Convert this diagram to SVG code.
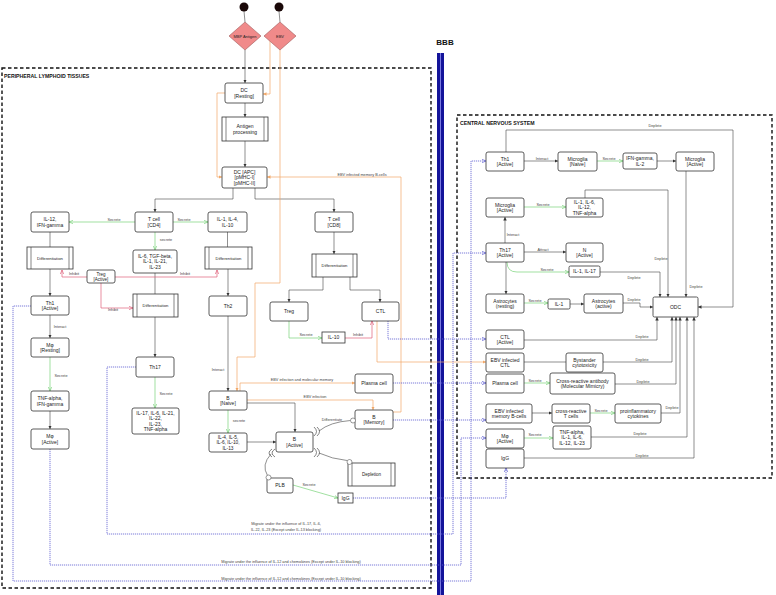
<svg xmlns="http://www.w3.org/2000/svg" width="776" height="595" viewBox="0 0 776 595">
<style>
.bx{fill:#fff;stroke:#333;stroke-width:0.8}
.pl{fill:none;stroke:#333;stroke-width:0.6}
.t{font-family:"Liberation Sans",Arial,sans-serif;font-size:5px;text-anchor:middle;fill:#222}
.s{font-family:"Liberation Sans",Arial,sans-serif;font-size:3.8px;text-anchor:middle;fill:#444}
.h{font-family:"Liberation Sans",Arial,sans-serif;font-size:5.2px;font-weight:bold;fill:#111}
.k{fill:none;stroke:#444;stroke-width:0.6}
.g{fill:none;stroke:#79d279;stroke-width:0.7}
.p{fill:none;stroke:#e0607a;stroke-width:0.7}
.o{fill:none;stroke:#f2a868;stroke-width:0.7}
.b{fill:none;stroke:#5a5ad0;stroke-width:0.8;stroke-dasharray:1.2 0.8}
.c{fill:#fff;stroke:#555;stroke-width:0.6}
.frame{fill:none;stroke:#111;stroke-width:1.4;stroke-dasharray:3.5 2.5}
</style>
<defs>
<marker id="ak" viewBox="0 0 6 6" refX="6" refY="3" markerWidth="3.5" markerHeight="3.5" markerUnits="userSpaceOnUse" orient="auto"><path d="M0,0 L6,3 L0,6 z" fill="#333"/></marker>
<marker id="ag" viewBox="0 0 6 6" refX="6" refY="3" markerWidth="4" markerHeight="4" markerUnits="userSpaceOnUse" orient="auto"><path d="M0,0.5 L6,3 L0,5.5" fill="none" stroke="#79d279" stroke-width="1"/></marker>
<marker id="ap" viewBox="0 0 6 6" refX="6" refY="3" markerWidth="4" markerHeight="4" markerUnits="userSpaceOnUse" orient="auto"><path d="M0,0.5 L6,3 L0,5.5" fill="none" stroke="#e0607a" stroke-width="1"/></marker>
<marker id="ao" viewBox="0 0 6 6" refX="6" refY="3" markerWidth="3.5" markerHeight="3.5" markerUnits="userSpaceOnUse" orient="auto"><path d="M0,0 L6,3 L0,6 z" fill="#f2a868"/></marker>
<marker id="ab" viewBox="0 0 6 6" refX="6" refY="3" markerWidth="4" markerHeight="4" markerUnits="userSpaceOnUse" orient="auto"><path d="M0,0.5 L6,3 L0,5.5" fill="none" stroke="#5a5ad0" stroke-width="1"/></marker>
</defs>
<rect width="776" height="595" fill="#fff"/>

<!-- frames -->
<g id="frames">
<rect class="frame" x="2" y="68" width="429" height="520"/>
<text class="h" x="4" y="78">PERIPHERAL LYMPHOID TISSUES</text>
<rect class="frame" x="457" y="115" width="315" height="363"/>
<text class="h" x="460" y="125">CENTRAL NERVOUS SYSTEM</text>
</g>
<g id="bbb">
<line x1="438.5" y1="53" x2="438.5" y2="595" stroke="#14149a" stroke-width="3"/>
<line x1="442.5" y1="53" x2="442.5" y2="595" stroke="#14149a" stroke-width="3"/>
<line x1="440.5" y1="53" x2="440.5" y2="595" stroke="#7a7ae0" stroke-width="1"/>
<text x="445" y="45" font-family="Liberation Sans, Arial, sans-serif" font-size="8" font-weight="bold" text-anchor="middle" fill="#111">BBB</text>
</g>

<!-- connectors -->
<g id="connectors">
<line class="k" x1="244" y1="11" x2="245" y2="22"/>
<line class="k" x1="279" y1="11" x2="280" y2="22"/>
<path class="k" d="M245,50 V83" marker-end="url(#ak)"/>
<path class="k" d="M245,103 V117" marker-end="url(#ak)"/>
<path class="k" d="M245,141 V167" marker-end="url(#ak)"/>
<path class="k" d="M233,188 V199 H155 V212" marker-end="url(#ak)"/>
<path class="k" d="M255,188 V199 H334 V212" marker-end="url(#ak)"/>
<path class="k" d="M50,232 V247"/>
<path class="k" d="M50,269 V296" marker-end="url(#ak)"/>
<path class="k" d="M227.5,232 V247"/>
<path class="k" d="M228,269 V296" marker-end="url(#ak)"/>
<path class="k" d="M334,232 V254" marker-end="url(#ak)"/>
<path class="k" d="M323,277 V290 H289 V302" marker-end="url(#ak)"/>
<path class="k" d="M350,277 V290 H380 V302" marker-end="url(#ak)"/>
<path class="k" d="M155,273 V294"/>
<path class="k" d="M155,317 V357" marker-end="url(#ak)"/>
<path class="k" d="M50,315 V338" marker-end="url(#ak)"/>
<text class="s" x="60" y="328">Interact</text>
<path class="k" d="M50,411 V429" marker-end="url(#ak)"/>
<path class="k" d="M228,316 V391" marker-end="url(#ak)"/>
<text class="s" x="218" y="371">Interact</text>
<path class="k" d="M247,442 H276" marker-end="url(#ak)"/>
<path class="k" d="M247,403 H295 V432" marker-end="url(#ak)"/>
<path class="k" d="M319,431 Q330,422 350.5,420.5"/>
<text class="s" x="332" y="421">Differentiate</text>
<path class="k" d="M319,453 Q332,459 347,460.5"/>
<path class="k" d="M271,454 Q261,465 267.5,475.5"/>

<path class="p" d="M87,277 H62 V270" marker-end="url(#ap)"/>
<text class="s" x="74" y="275">Inhibit</text>
<path class="p" d="M115,277 H217 V270" marker-end="url(#ap)"/>
<text class="s" x="185" y="275">Inhibit</text>
<path class="p" d="M101,283 V308 H133" marker-end="url(#ap)"/>
<text class="s" x="113" y="311">Inhibit</text>
<path class="p" d="M345,338 H372 V321" marker-end="url(#ap)"/>
<text class="s" x="358" y="336">Inhibit</text>

<path class="g" d="M135,222 H69" marker-end="url(#ag)"/>
<text class="s" x="114" y="220.5">Secrete</text>
<path class="g" d="M173,222 H208" marker-end="url(#ag)"/>
<text class="s" x="184" y="220.5">Secrete</text>
<path class="g" d="M155,232 V250" marker-end="url(#ag)"/>
<text class="s" x="166" y="241">secrete</text>
<path class="g" d="M50,357 V391" marker-end="url(#ag)"/>
<text class="s" x="61" y="377">Secrete</text>
<path class="g" d="M155,377 V408" marker-end="url(#ag)"/>
<text class="s" x="166" y="395">Secrete</text>
<path class="g" d="M228,410 V433" marker-end="url(#ag)"/>
<text class="s" x="239" y="422">secrete</text>
<path class="g" d="M289,321 V338 H322" marker-end="url(#ag)"/>
<text class="s" x="306" y="336">Secrete</text>
<path class="g" d="M293,485 L338,498" marker-end="url(#ag)"/>
<text class="s" x="309" y="486">Secrete</text>

<path class="o" d="M270,41 V94 H263" marker-end="url(#ao)"/>
<path class="o" d="M225,93 H217 V177 H222" marker-end="url(#ao)"/>
<path class="o" d="M280,50 V283 H255 V357 H237 V391" marker-end="url(#ao)"/>
<path class="o" d="M240,391 V383 H355" marker-end="url(#ao)"/>
<text class="s" x="302" y="381">EBV infection and molecular memory</text>
<path class="o" d="M247,400 H373 V410" marker-end="url(#ao)"/>
<text class="s" x="315" y="398">EBV infection</text>
<path class="o" d="M393,412 H401 V177 H267" marker-end="url(#ao)"/>
<text class="s" x="362" y="176">EBV infected memory B-cells</text>
<path class="o" d="M377,321 V362 H486" marker-end="url(#ao)"/>

<path class="b" d="M136,367 H107 V534 H453 V253 H486" marker-end="url(#ab)"/>
<text class="s" x="286" y="525">Migrate under the influence of IL-17, IL-6,</text>
<text class="s" x="286" y="531">IL-22, IL-23 (Except under IL-13 blocking)</text>
<path class="b" d="M50,449 V565 H461 V438 H486" marker-end="url(#ab)"/>
<text class="s" x="291" y="563">Migrate under the influence of IL-12 and chemokines (Except under IL-10 blocking)</text>
<path class="b" d="M31,306 H13 V581 H471 V161 H486" marker-end="url(#ab)"/>
<text class="s" x="291" y="580">Migrate under the influence of IL-12 and chemokines (Except under IL-10 blocking)</text>
<path class="b" d="M388,321 V339 H486" marker-end="url(#ab)"/>
<path class="b" d="M393,383 H486" marker-end="url(#ab)"/>
<path class="b" d="M393,420 H486" marker-end="url(#ab)"/>
<path class="b" d="M353,498 H506 V468" marker-end="url(#ab)"/>

<!-- CNS -->
<path class="k" d="M524,161 H558" marker-end="url(#ak)"/>
<text class="s" x="542" y="159.5">Interact</text>
<path class="g" d="M597,161 H623" marker-end="url(#ag)"/>
<text class="s" x="609" y="159.5">Secrete</text>
<path class="k" d="M657,161 H676" marker-end="url(#ak)"/>
<path class="k" d="M506,152 V130 H733 V307 H698" marker-end="url(#ak)"/>
<text class="s" x="655" y="127">Deplete</text>
<path class="g" d="M524,207 H566" marker-end="url(#ag)"/>
<text class="s" x="543" y="205.5">Secrete</text>
<path class="k" d="M585,198 V190 H668 V297" marker-end="url(#ak)"/>
<text class="s" x="661" y="260">Deplete</text>
<path class="k" d="M686,171 V297" marker-end="url(#ak)"/>
<text class="s" x="696" y="288">Deplete</text>
<path class="k" d="M505,243 V217" marker-end="url(#ak)"/>
<text class="s" x="513" y="236">Interact</text>
<path class="k" d="M524,252 H566" marker-end="url(#ak)"/>
<text class="s" x="543" y="250.5">Attract</text>
<path class="g" d="M507,262 Q507,272 517,272 H569" marker-end="url(#ag)"/>
<text class="s" x="547" y="270.5">Secrete</text>
<path class="k" d="M600,272 H660 V297" marker-end="url(#ak)"/>
<text class="s" x="634" y="278.5">Deplete</text>
<path class="k" d="M506,262 V294" marker-end="url(#ak)"/>
<path class="g" d="M524,303 H548" marker-end="url(#ag)"/>
<text class="s" x="535" y="302">Secrete</text>
<path class="k" d="M570,304 H584" marker-end="url(#ak)"/>
<path class="k" d="M623,303 H640 V307 H653" marker-end="url(#ak)"/>
<text class="s" x="634" y="301">Deplete</text>
<path class="k" d="M524,340 H657 V317" marker-end="url(#ak)"/>
<text class="s" x="642" y="338">Deplete</text>
<path class="k" d="M524,362 H566"/>
<path class="k" d="M603,362 H672 V317" marker-end="url(#ak)"/>
<text class="s" x="642" y="360.5">Deplete</text>
<path class="g" d="M524,383 H550" marker-end="url(#ag)"/>
<text class="s" x="535" y="381.5">Secrete</text>
<path class="k" d="M615,384 H676 V317" marker-end="url(#ak)"/>
<text class="s" x="643" y="382.5">Deplete</text>
<path class="k" d="M532,413 H552" marker-end="url(#ak)"/>
<path class="g" d="M590,413 H615" marker-end="url(#ag)"/>
<text class="s" x="601" y="411.5">Secrete</text>
<path class="k" d="M661,413 H680 V317" marker-end="url(#ak)"/>
<text class="s" x="672" y="409">Deplete</text>
<path class="g" d="M524,438 H553" marker-end="url(#ag)"/>
<text class="s" x="535" y="435.5">Secrete</text>
<path class="k" d="M591,437 H687 V317" marker-end="url(#ak)"/>
<text class="s" x="640" y="435">Deplete</text>
<path class="k" d="M524,458 H694 V317" marker-end="url(#ak)"/>
<text class="s" x="642" y="456.5">Deplete</text>
</g>

<!-- nodes: periphery -->
<g id="start1"><circle cx="244" cy="7" r="4.5" fill="#1a0808"/></g>
<g id="start2"><circle cx="279" cy="7" r="4.5" fill="#1a0808"/></g>
<g id="mbp"><polygon points="245,22 261,36 245,50 229,36" fill="#f08a8a" stroke="#a05a5a" stroke-width="0.6"/><text class="t" x="245" y="37.5" style="font-size:4px">MBP Antigen</text></g>
<g id="ebv"><polygon points="280,22 296,36 280,50 264,36" fill="#f08a8a" stroke="#a05a5a" stroke-width="0.6"/><text class="t" x="280" y="37.5" style="font-size:4px">EBV</text></g>

<g id="dc_rest"><rect class="bx" x="225" y="83" width="38" height="20" rx="2"/><text class="t" x="244" y="92">DC</text><text class="t" x="244" y="97.5">[Resting]</text></g>
<g id="antigen"><rect class="bx" x="222" y="117" width="46" height="24"/><line class="pl" x1="226" y1="117" x2="226" y2="141"/><line class="pl" x1="264" y1="117" x2="264" y2="141"/><text class="t" x="245" y="128">Antigen</text><text class="t" x="245" y="133.5">processing</text></g>
<g id="dc_apc"><rect class="bx" x="222" y="167" width="45" height="21" rx="2"/><text class="t" x="244.5" y="173.8">DC [APC]</text><text class="t" x="244.5" y="179.3">[pMHC-I]</text><text class="t" x="244.5" y="184.8">[pMHC-II]</text></g>
<g id="il12"><rect class="bx" x="31" y="212" width="38" height="20" rx="2"/><text class="t" x="50" y="221">IL-12,</text><text class="t" x="50" y="226.5">IFN-gamma</text></g>
<g id="tcd4"><rect class="bx" x="135" y="212" width="38" height="20" rx="2"/><text class="t" x="154" y="221">T cell</text><text class="t" x="154" y="226.5">[CD4]</text></g>
<g id="il1_4"><rect class="bx" x="208" y="212" width="39" height="20" rx="2"/><text class="t" x="227.5" y="221">IL-1, IL-4,</text><text class="t" x="227.5" y="226.5">IL-10</text></g>
<g id="tcd8"><rect class="bx" x="315" y="212" width="38" height="20" rx="2"/><text class="t" x="334" y="221">T cell</text><text class="t" x="334" y="226.5">[CD8]</text></g>
<g id="diff_l"><rect class="bx" x="27" y="247" width="46" height="22"/><line class="pl" x1="31" y1="247" x2="31" y2="269"/><line class="pl" x1="69" y1="247" x2="69" y2="269"/><text class="t" x="50" y="259.8" style="font-size:4.2px">Differentiation</text></g>
<g id="il6"><rect class="bx" x="133" y="250" width="44" height="23" rx="2"/><text class="t" x="155" y="257.8">IL-6, TGF-beta,</text><text class="t" x="155" y="263.3">IL-1, IL-21,</text><text class="t" x="155" y="268.8">IL-23</text></g>
<g id="diff_r"><rect class="bx" x="205" y="247" width="47" height="22"/><line class="pl" x1="209" y1="247" x2="209" y2="269"/><line class="pl" x1="248" y1="247" x2="248" y2="269"/><text class="t" x="228.5" y="259.8" style="font-size:4.2px">Differentiation</text></g>
<g id="diff_cd8"><rect class="bx" x="312" y="254" width="45" height="23"/><line class="pl" x1="316" y1="254" x2="316" y2="277"/><line class="pl" x1="353" y1="254" x2="353" y2="277"/><text class="t" x="334.5" y="267.3" style="font-size:4.2px">Differentiation</text></g>
<g id="treg_a"><rect class="bx" x="87" y="270" width="28" height="13" rx="2"/><text class="t" x="101" y="275.6" style="font-size:4.5px">Treg</text><text class="t" x="101" y="280.6" style="font-size:4.5px">[Active]</text></g>
<g id="diff_m"><rect class="bx" x="133" y="294" width="45" height="23"/><line class="pl" x1="137" y1="294" x2="137" y2="317"/><line class="pl" x1="174" y1="294" x2="174" y2="317"/><text class="t" x="155.5" y="307.3" style="font-size:4.2px">Differentiation</text></g>
<g id="th1"><rect class="bx" x="31" y="296" width="38" height="19" rx="2"/><text class="t" x="50" y="304.6">Th1</text><text class="t" x="50" y="310.1">[Active]</text></g>
<g id="th2"><rect class="bx" x="209" y="296" width="38" height="20" rx="2"/><text class="t" x="228" y="307.8">Th2</text></g>
<g id="treg"><rect class="bx" x="270" y="302" width="38" height="19" rx="2"/><text class="t" x="289" y="313.3">Treg</text></g>
<g id="ctl"><rect class="bx" x="362" y="302" width="37" height="19" rx="2"/><text class="t" x="380.5" y="313.3">CTL</text></g>
<g id="il10"><rect class="bx" x="322" y="332" width="23" height="11"/><text class="t" x="333.5" y="339.3">IL-10</text></g>
<g id="mrest"><rect class="bx" x="31" y="338" width="38" height="19" rx="2"/><text class="t" x="50" y="346.6">Mφ</text><text class="t" x="50" y="352.1">[Resting]</text></g>
<g id="th17"><rect class="bx" x="136" y="357" width="38" height="20" rx="2"/><text class="t" x="155" y="368.8">Th17</text></g>
<g id="plasma"><rect class="bx" x="355" y="374" width="38" height="19" rx="2"/><text class="t" x="374" y="385.3">Plasma cell</text></g>
<g id="tnf"><rect class="bx" x="31" y="391" width="38" height="20" rx="2"/><text class="t" x="50" y="400">TNF-alpha,</text><text class="t" x="50" y="405.5">IFN-gamma</text></g>
<g id="bnaive"><rect class="bx" x="209" y="391" width="38" height="19" rx="2"/><text class="t" x="228" y="399.6">B</text><text class="t" x="228" y="405.1">[Naive]</text></g>
<g id="il17"><rect class="bx" x="132" y="408" width="47" height="26" rx="2"/><text class="t" x="155.5" y="414.6">IL-17, IL-6, IL-21,</text><text class="t" x="155.5" y="420.1">IL-22,</text><text class="t" x="155.5" y="425.6">IL-23,</text><text class="t" x="155.5" y="431.1">TNF-alpha</text></g>
<g id="bmem"><rect class="bx" x="355" y="410" width="38" height="19" rx="2"/><text class="t" x="374" y="418.6">B</text><text class="t" x="374" y="424.1">[Memory]</text><circle class="c" cx="353" cy="420.5" r="2.5"/></g>
<g id="mact"><rect class="bx" x="31" y="429" width="38" height="20" rx="2"/><text class="t" x="50" y="438">Mφ</text><text class="t" x="50" y="443.5">[Active]</text></g>
<g id="il4"><rect class="bx" x="209" y="433" width="38" height="19" rx="2"/><text class="t" x="228" y="438.8" style="font-size:4.8px">IL-4, IL-5,</text><text class="t" x="228" y="444.2" style="font-size:4.8px">IL-6, IL-10,</text><text class="t" x="228" y="449.6" style="font-size:4.8px">IL-13</text></g>
<g id="bact"><rect class="bx" x="276" y="432" width="37" height="20" rx="2"/><text class="t" x="294.5" y="441">B</text><text class="t" x="294.5" y="446.5">[Active]</text>
<path class="pl" d="M314,427 Q319,431.5 314,436"/><path class="pl" d="M317,427 Q322,431.5 317,436"/>
<path class="pl" d="M314,448 Q319,452.5 314,457"/><path class="pl" d="M317,448 Q322,452.5 317,457"/>
<path class="pl" d="M275,449 Q269,453 275,457"/><path class="pl" d="M272,449 Q266,453 272,457"/></g>
<g id="depl"><rect class="bx" x="348" y="463" width="47" height="23"/><line class="pl" x1="352" y1="463" x2="352" y2="486"/><line class="pl" x1="391" y1="463" x2="391" y2="486"/><text class="t" x="371.5" y="476.3" style="font-size:4.5px">Depletion</text><circle class="c" cx="349.5" cy="462" r="2.5"/></g>
<g id="plb"><rect class="bx" x="267" y="478" width="26" height="15" rx="2"/><text class="t" x="280" y="487.3">PLB</text><circle class="c" cx="268.5" cy="477.5" r="2.5"/></g>
<g id="igg"><rect class="bx" x="338" y="493" width="15" height="10"/><text class="t" x="345.5" y="499.8">IgG</text></g>

<!-- nodes: CNS -->
<g id="th1c"><rect class="bx" x="486" y="152" width="38" height="19" rx="2"/><text class="t" x="505" y="160.6">Th1</text><text class="t" x="505" y="166.1">[Active]</text></g>
<g id="mgn"><rect class="bx" x="558" y="152" width="39" height="19" rx="2"/><text class="t" x="577.5" y="160.6">Microglia</text><text class="t" x="577.5" y="166.1">[Naive]</text></g>
<g id="ifn"><rect class="bx" x="623" y="153" width="34" height="16" rx="2"/><text class="t" x="640" y="160">IFN-gamma,</text><text class="t" x="640" y="165.5">IL-2</text></g>
<g id="mga"><rect class="bx" x="676" y="152" width="38" height="19" rx="2"/><text class="t" x="695" y="160.6">Microglia</text><text class="t" x="695" y="166.1">[Active]</text></g>
<g id="mga2"><rect class="bx" x="486" y="198" width="38" height="19" rx="2"/><text class="t" x="505" y="206.6">Microglia</text><text class="t" x="505" y="212.1">[Active]</text></g>
<g id="il1c"><rect class="bx" x="566" y="198" width="37" height="19" rx="2"/><text class="t" x="584.5" y="203.8">IL-1, IL-6,</text><text class="t" x="584.5" y="209.3">IL-12,</text><text class="t" x="584.5" y="214.8">TNF-alpha</text></g>
<g id="th17c"><rect class="bx" x="486" y="243" width="38" height="19" rx="2"/><text class="t" x="505" y="251.6">Th17</text><text class="t" x="505" y="257.1">[Active]</text></g>
<g id="nact"><rect class="bx" x="566" y="243" width="37" height="19" rx="2"/><text class="t" x="584.5" y="251.6">N</text><text class="t" x="584.5" y="257.1">[Active]</text></g>
<g id="il117"><rect class="bx" x="569" y="266" width="31" height="11" rx="1.5"/><text class="t" x="584.5" y="273.3">IL-1, IL-17</text></g>
<g id="astr"><rect class="bx" x="486" y="294" width="38" height="19" rx="2"/><text class="t" x="505" y="302.6">Astrocytes</text><text class="t" x="505" y="308.1">(resting)</text></g>
<g id="il1"><rect class="bx" x="548" y="299" width="22" height="10" rx="1.5"/><text class="t" x="559" y="305.8">IL-1</text></g>
<g id="asta"><rect class="bx" x="584" y="294" width="39" height="19" rx="2"/><text class="t" x="603.5" y="302.6">Astrocytes</text><text class="t" x="603.5" y="308.1">(active)</text></g>
<g id="odc"><rect class="bx" x="653" y="297" width="45" height="20" rx="1.5"/><text class="t" x="675.5" y="308.8">ODC</text></g>
<g id="ctlc"><rect class="bx" x="486" y="330" width="38" height="19" rx="2"/><text class="t" x="505" y="338.6">CTL</text><text class="t" x="505" y="344.1">[Active]</text></g>
<g id="ebvctl"><rect class="bx" x="486" y="353" width="38" height="19" rx="2"/><text class="t" x="505" y="361.6">EBV infected</text><text class="t" x="505" y="367.1">CTL</text></g>
<g id="bysta"><rect class="bx" x="566" y="353" width="37" height="19" rx="2"/><text class="t" x="584.5" y="361.6">Bystander</text><text class="t" x="584.5" y="367.1">cytotoxicity</text></g>
<g id="plasc"><rect class="bx" x="486" y="374" width="38" height="19" rx="2"/><text class="t" x="505" y="385.3">Plasma cell</text></g>
<g id="crossab"><rect class="bx" x="550" y="373" width="65" height="21" rx="2"/><text class="t" x="582.5" y="382.6">Cross-reactive antibody</text><text class="t" x="582.5" y="388.1">(Molecular Mimicry)</text></g>
<g id="ebvmem"><rect class="bx" x="486" y="404" width="46" height="19" rx="2"/><text class="t" x="509" y="412.6">EBV infected</text><text class="t" x="509" y="418.1">memory B-cells</text></g>
<g id="crosst"><rect class="bx" x="552" y="404" width="38" height="19" rx="2"/><text class="t" x="571" y="412.6">cross-reactive</text><text class="t" x="571" y="418.1">T cells</text></g>
<g id="proinf"><rect class="bx" x="615" y="404" width="46" height="19" rx="2"/><text class="t" x="638" y="412.6">proinflammatory</text><text class="t" x="638" y="418.1">cytokines</text></g>
<g id="mactc"><rect class="bx" x="486" y="429" width="38" height="19" rx="2"/><text class="t" x="505" y="437.6">Mφ</text><text class="t" x="505" y="443.1">[Active]</text></g>
<g id="tnfc"><rect class="bx" x="553" y="426" width="38" height="23" rx="2"/><text class="t" x="572" y="433.8">TNF-alpha,</text><text class="t" x="572" y="439.3">IL-1, IL-6,</text><text class="t" x="572" y="444.8">IL-12, IL-23</text></g>
<g id="iggc"><rect class="bx" x="486" y="449" width="38" height="19" rx="2"/><text class="t" x="505" y="460.3">IgG</text></g>
</svg>
